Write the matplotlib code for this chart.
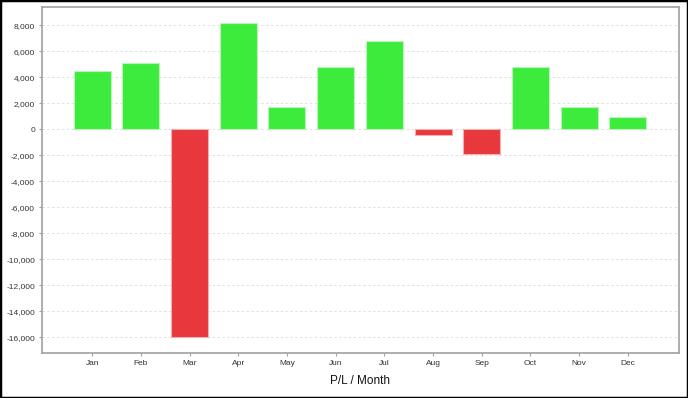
import matplotlib.pyplot as plt
from matplotlib.patches import Rectangle
from matplotlib.ticker import FuncFormatter

plt.rcParams['font.family'] = ['Liberation Sans', 'DejaVu Sans']

# P/L per month
months = ["Jan", "Feb", "Mar", "Apr", "May", "Jun",
          "Jul", "Aug", "Sep", "Oct", "Nov", "Dec"]
pl = [4460, 5100, -16000, 8200, 1700, 4770,
      6800, -460, -1920, 4820, 1690, 920]

green = "#3deb3d"
red = "#e8383d"
colors = [green if v >= 0 else red for v in pl]
edges = ["#b8f5b8" if v >= 0 else "#f2b0b2" for v in pl]

fig = plt.figure(figsize=(6.88, 3.98), dpi=100)
ax = fig.add_axes([42 / 688, 1 - 353 / 398, 637 / 688, 346 / 398])

x = list(range(len(months)))
ax.bar(x, pl, width=0.76, color=colors, edgecolor=edges, linewidth=0.8, zorder=3)

ax.set_xlim(-1.03, 12.05)
ax.set_ylim(-17210, 9410)
ax.set_yticks(range(-16000, 8001, 2000))
ax.yaxis.set_major_formatter(FuncFormatter(lambda v, p: f"{int(v):,}"))
ax.set_xticks(x)
ax.set_xticklabels(months)

ax.grid(axis="y", color="#e0e0e0", linestyle=(0, (2.5, 2.5)), linewidth=0.7, zorder=0)
for s in ax.spines.values():
    s.set_color("#a0a0a0")
    s.set_linewidth(1.2)
ax.tick_params(axis="both", labelsize=6, labelcolor="#333333", color="#a0a0a0",
               length=2, width=0.8, pad=3)
ax.set_xlabel("P/L / Month", fontsize=8.5, color="#111111", labelpad=6)

# black frame around the whole figure
fig.patches.append(Rectangle((0, 0), 1, 1, transform=fig.transFigure,
                             fill=False, edgecolor="black", linewidth=2.5))

fig.savefig("out.png", dpi=100)
